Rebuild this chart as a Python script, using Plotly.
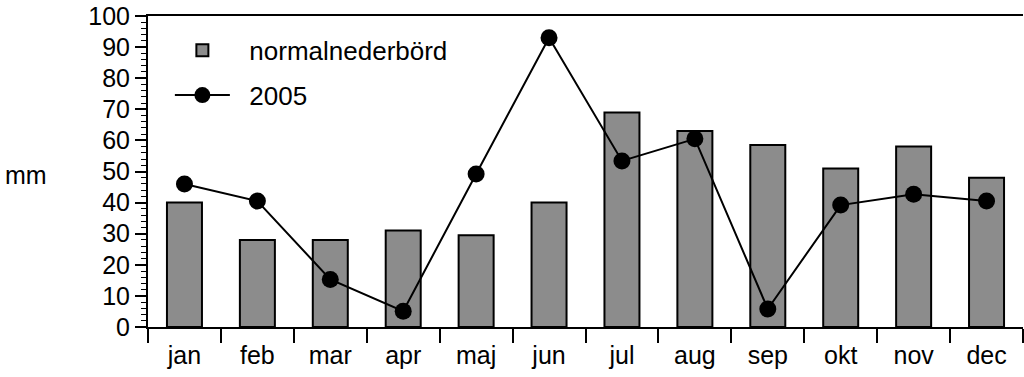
import plotly.graph_objects as go

months = ["jan", "feb", "mar", "apr", "maj", "jun", "jul", "aug", "sep", "okt", "nov", "dec"]
normal = [40, 28, 28, 31, 29.5, 40, 69, 63, 58.5, 51, 58, 48]
y2005 = [46, 40.5, 15.3, 5.1, 49.2, 93, 53.4, 60.5, 5.8, 39.2, 42.7, 40.5]

FONT = "Liberation Sans, Arial, Helvetica, sans-serif"
PAD = "\u00a0\u00a0"

fig = go.Figure()
fig.add_trace(go.Bar(
    x=months, y=normal, name=PAD + "normalnederbörd", width=0.48,
    marker=dict(color="#8c8c8c", line=dict(color="black", width=2)),
    legendgroup="a",
))
fig.add_trace(go.Scatter(
    x=months, y=y2005, name=PAD + "2005", mode="lines+markers",
    line=dict(color="black", width=2),
    marker=dict(color="black", size=17),
    legendgroup="b",
))

fig.update_layout(
    width=1024, height=377,
    margin=dict(l=148, r=1, t=16, b=50),
    plot_bgcolor="white", paper_bgcolor="white",
    font=dict(family=FONT, size=25, color="black"),
    showlegend=True,
    legend=dict(x=0.025, y=0.965, xanchor="left", yanchor="top",
                bgcolor="rgba(0,0,0,0)", font=dict(size=26),
                traceorder="grouped", tracegroupgap=8, itemwidth=55),
    xaxis=dict(
        type="category", showline=True, linecolor="black", linewidth=2,
        mirror=True, ticks="outside", tickson="boundaries", ticklen=14,
        tickcolor="black", tickwidth=1.5, showgrid=False,
        tickfont=dict(size=25), range=[-0.5, 11.5], ticklabelstandoff=5,
    ),
    yaxis=dict(
        range=[0, 100], dtick=10, showline=True, linecolor="black", linewidth=2,
        ticks="outside", ticklen=11, tickcolor="black", tickwidth=1.5,
        showgrid=False, zeroline=False, tickfont=dict(size=25),
        minor=dict(dtick=2, ticks="outside", ticklen=5, tickcolor="black", tickwidth=1),
    ),
    bargap=0.5,
)
fig.add_annotation(text="mm", xref="paper", yref="paper", x=-0.1394, y=0.489,
                   showarrow=False, font=dict(size=25), xanchor="center", yanchor="middle")

fig.write_html("out.html")
